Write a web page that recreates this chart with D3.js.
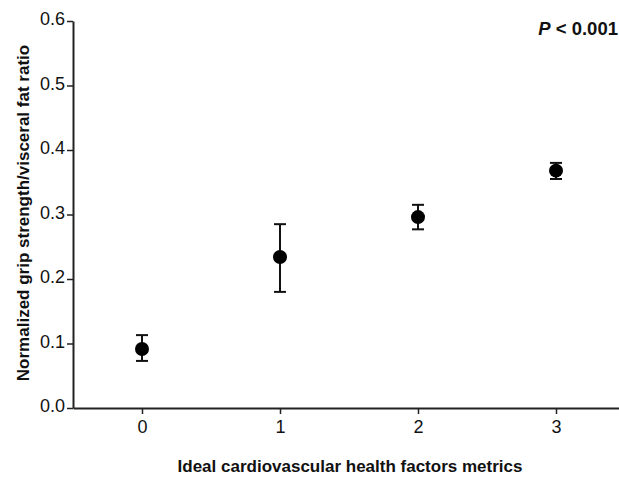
<!DOCTYPE html>
<html><head><meta charset="utf-8">
<script src="https://cdn.jsdelivr.net/npm/d3@7/dist/d3.min.js"></script>
<style>body{margin:0;background:#fff}svg{display:block}</style>
</head><body>
<script>
const categories = [0, 1, 2, 3];
const means = [0.0915, 0.234, 0.296, 0.368];
const lower = [0.073, 0.180, 0.277, 0.355];
const upper = [0.113, 0.285, 0.315, 0.380];
const yTicks = [0, 0.1, 0.2, 0.3, 0.4, 0.5, 0.6];

const W = 619, H = 479;
const svg = d3.select("body").append("svg").attr("width", W).attr("height", H);
const font = "'Liberation Sans', Arial, sans-serif";

const x = d3.scaleLinear().domain([-0.5, 3.5]).range([73, 625]);
const y = d3.scaleLinear().domain([0, 0.6]).range([408, 21]);

const yAxis = svg.append("g").attr("transform", "translate(73,0)")
  .call(d3.axisLeft(y).tickValues(yTicks).tickFormat(d3.format(".1f")).tickSize(6).tickSizeOuter(0));
const xAxis = svg.append("g").attr("transform", "translate(0,408)")
  .call(d3.axisBottom(x).tickValues(categories).tickFormat(d3.format("d")).tickSize(6).tickSizeOuter(0));

[yAxis, xAxis].forEach(g => {
  g.select(".domain").attr("stroke", "#222").attr("stroke-width", 2);
  g.selectAll(".tick line").attr("stroke", "#222").attr("stroke-width", 1.5);
  g.selectAll(".tick text").attr("font-family", font).attr("font-size", 18).attr("fill", "#111");
});
yAxis.selectAll(".tick text").attr("x", -8).attr("dy", "0.2em");
xAxis.selectAll(".tick text").attr("y", 12);

const pts = categories.map((c, i) => ({c, m: means[i], lo: lower[i], hi: upper[i]}));
const g = svg.append("g");
g.selectAll("line.v").data(pts).join("line")
  .attr("x1", d => x(d.c)).attr("x2", d => x(d.c))
  .attr("y1", d => y(d.lo)).attr("y2", d => y(d.hi))
  .attr("stroke", "#111").attr("stroke-width", 2);
["lo", "hi"].forEach(k => {
  g.selectAll("line.cap" + k).data(pts).join("line")
    .attr("x1", d => x(d.c) - 6).attr("x2", d => x(d.c) + 6)
    .attr("y1", d => y(d[k])).attr("y2", d => y(d[k]))
    .attr("stroke", "#111").attr("stroke-width", 2);
});
g.selectAll("circle").data(pts).join("circle")
  .attr("cx", d => x(d.c)).attr("cy", d => y(d.m)).attr("r", 7)
  .attr("fill", "#000");

svg.append("text")
  .attr("transform", "translate(29,213) rotate(-90)")
  .attr("text-anchor", "middle").attr("font-family", font)
  .attr("font-weight", "bold").attr("font-size", 17).attr("fill", "#111")
  .text("Normalized grip strength/visceral fat ratio");

svg.append("text")
  .attr("x", 350).attr("y", 472)
  .attr("text-anchor", "middle").attr("font-family", font)
  .attr("font-weight", "bold").attr("font-size", 17).attr("fill", "#111")
  .text("Ideal cardiovascular health factors metrics");

const p = svg.append("text")
  .attr("x", 618).attr("y", 35)
  .attr("text-anchor", "end").attr("font-family", font)
  .attr("font-weight", "bold").attr("font-size", 18.5).attr("fill", "#111");
p.append("tspan").attr("font-style", "italic").text("P");
p.append("tspan").text(" < 0.001");
</script>
</body></html>
